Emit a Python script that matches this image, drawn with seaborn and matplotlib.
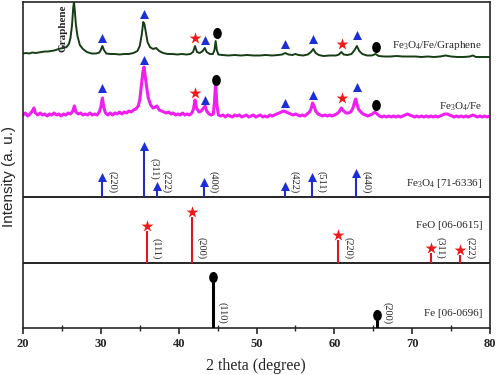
import numpy as np
import pandas as pd
import matplotlib
matplotlib.use('Agg')
import matplotlib.pyplot as plt
import seaborn as sns
from matplotlib.path import Path
from matplotlib.transforms import Affine2D

# --- measured XRD curves (2 theta, intensity a.u.) ---
tt_graphene = [20.0, 20.4, 20.8, 21.2, 21.6, 22.0, 22.4, 22.8, 23.2, 23.6, 24.0, 24.4, 24.8, 25.2,
               25.6, 25.9, 26.1, 26.3, 26.45, 26.55, 26.65, 26.8, 27.0, 27.3, 27.7, 28.2, 28.8,
               29.4, 29.8, 30.0, 30.2, 30.4, 30.7, 31.2, 31.8, 32.4, 33.0, 33.6, 34.2, 34.7, 35.0,
               35.25, 35.45, 35.6, 35.8, 36.0, 36.3, 36.7, 37.1, 37.5, 38.0, 38.6, 39.2, 39.8,
               40.4, 41.0, 41.5, 41.85, 42.1, 42.35, 42.7, 43.1, 43.35, 43.6, 44.0, 44.4, 44.6,
               44.75, 44.9, 45.1, 45.6, 46.4, 47.2, 48.0, 48.8, 49.6, 50.4, 51.2, 52.0, 52.8, 53.3,
               53.7, 54.1, 54.6, 55.0, 55.4, 56.0, 56.6, 57.0, 57.3, 57.6, 58.0, 58.6, 59.4, 60.2,
               60.6, 60.9, 61.2, 61.7, 62.2, 62.6, 62.9, 63.2, 63.6, 64.2, 64.8, 65.3, 65.7, 66.4,
               67.2, 68.0, 68.8, 69.6, 70.4, 71.2, 72.0, 72.8, 73.6, 74.3, 75.0, 75.8, 76.6, 77.4,
               77.8, 78.2, 79.0, 80.0]
i_graphene = [6.5, 7, 6.5, 7.5, 7, 7.5, 8, 8.5, 8.5, 9, 9.5, 10.5, 11.5, 12,
              13, 16, 22, 35, 52, 58, 50, 35, 24, 15, 11, 8, 6.5,
              6.5, 7.5, 10, 14, 10, 6.5, 6, 6, 5.5, 6, 6, 7, 9, 14,
              25, 38, 36, 27, 18, 13, 11, 12, 9, 7, 6, 6, 5.5,
              6, 5.5, 6, 8, 14, 8, 7, 9, 12, 8, 6, 6, 10,
              19, 10, 5.5, 5, 4.5, 5, 4.5, 5, 4.5, 4.5, 5, 4.5, 5, 5.5,
              7, 5.5, 5, 6, 5, 4.5, 5.5, 8, 11, 7, 5, 4, 4.5, 4.5,
              5.5, 8, 5.5, 5, 6, 10, 14, 9, 6, 4.5, 4.5, 6, 4, 3.5,
              3.5, 4, 3.5, 3.5, 3.5, 3, 3.5, 3, 3.5, 4.5, 3.5, 3, 3, 3.5,
              4.5, 3, 3, 3]

tt_fe3o4fe = [20.0, 20.3, 20.6, 20.9, 21.2, 21.4, 21.6, 21.9, 22.2, 22.5, 22.8, 23.1, 23.4, 23.7,
              24.0, 24.3, 24.6, 24.9, 25.2, 25.5, 25.8, 26.1, 26.4, 26.6, 26.8, 27.1, 27.4, 27.7,
              28.0, 28.3, 28.6, 28.9, 29.2, 29.5, 29.8, 30.0, 30.2, 30.4, 30.6, 30.9, 31.2, 31.5,
              31.8, 32.1, 32.4, 32.7, 33.0, 33.3, 33.6, 33.9, 34.2, 34.5, 34.8, 35.0, 35.2, 35.4,
              35.55, 35.7, 35.9, 36.1, 36.4, 36.7, 37.0, 37.2, 37.5, 37.8, 38.1, 38.4, 38.7, 39.0,
              39.3, 39.6, 39.9, 40.2, 40.5, 40.8, 41.1, 41.4, 41.7, 41.9, 42.1, 42.3, 42.6, 42.9,
              43.2, 43.4, 43.6, 43.9, 44.2, 44.45, 44.6, 44.75, 44.9, 45.1, 45.4, 45.7, 46.0, 46.3,
              46.6, 46.9, 47.2, 47.5, 47.8, 48.1, 48.4, 48.7, 49.0, 49.3, 49.6, 49.9, 50.2, 50.5,
              50.8, 51.1, 51.4, 51.7, 52.0, 52.3, 52.6, 52.9, 53.2, 53.5, 53.8, 54.1, 54.4, 54.7,
              55.0, 55.3, 55.6, 55.9, 56.2, 56.5, 56.8, 57.0, 57.2, 57.4, 57.6, 57.9, 58.2, 58.5,
              58.8, 59.1, 59.4, 59.7, 60.0, 60.3, 60.6, 60.9, 61.2, 61.5, 61.8, 62.1, 62.4, 62.6,
              62.75, 62.9, 63.1, 63.4, 63.7, 64.0, 64.3, 64.6, 64.9, 65.2, 65.5, 65.8, 66.1, 66.4,
              66.7, 67.0, 67.3, 67.6, 67.9, 68.2, 68.5, 68.8, 69.1, 69.4, 69.7, 70.0, 70.3, 70.6,
              70.9, 71.2, 71.5, 71.8, 72.1, 72.4, 72.7, 73.0, 73.3, 73.6, 73.9, 74.2, 74.5, 74.8,
              75.1, 75.4, 75.7, 76.0, 76.3, 76.6, 76.9, 77.2, 77.5, 77.8, 78.1, 78.4, 78.7, 79.0,
              79.3, 79.6, 80.0]
i_fe3o4fe = [5, 7, 4, 6, 9, 12, 7, 5, 7, 5, 6, 4, 6, 5,
             7, 5, 6, 4, 6, 5, 7, 6, 9, 14, 8, 6, 7, 5,
             6, 5, 7, 5, 6, 5, 8, 13, 22, 12, 7, 5, 7, 5,
             7, 6, 8, 6, 8, 7, 9, 8, 10, 11, 14, 20, 34, 48,
             53, 44, 32, 22, 15, 12, 13, 14, 10, 9, 8, 7, 8, 6,
             7, 5, 6, 5, 7, 5, 6, 5, 7, 11, 20, 12, 8, 9,
             12, 14, 9, 6, 5, 6, 18, 38, 16, 5, 4, 5, 3, 5,
             4, 3, 5, 4, 5, 3, 4, 5, 3, 4, 5, 3, 4, 5,
             3, 4, 3, 5, 4, 5, 6, 7, 8, 9, 8, 7, 6, 5,
             6, 5, 4, 5, 4, 6, 8, 11, 17, 14, 9, 6, 5, 4,
             5, 4, 5, 4, 5, 6, 8, 12, 9, 7, 7, 8, 12, 18,
             21, 16, 11, 8, 6, 5, 4, 5, 6, 8, 6, 4, 3, 4,
             3, 4, 3, 4, 3, 4, 3, 4, 5, 6, 5, 4, 3, 4,
             3, 4, 3, 4, 3, 4, 3, 4, 3, 4, 5, 6, 6, 5,
             4, 3, 4, 3, 4, 3, 4, 3, 4, 5, 4, 3, 4, 3,
             4, 3, 4]

# phase markers above the measured peaks (2 theta, phase, height a.u.)
mk_graphene_pos = [30.2, 35.5, 42.1, 43.4, 44.9, 53.7, 57.3, 61.0, 62.9, 65.4]
mk_graphene_phase = ['Fe3O4', 'Fe3O4', 'FeO', 'Fe3O4', 'Fe', 'Fe3O4', 'Fe3O4', 'FeO', 'Fe3O4', 'Fe']
mk_graphene_h = [22, 46, 22, 20, 27, 16, 21, 16, 25, 13]
mk_fe3o4fe_pos = [30.2, 35.5, 42.1, 43.4, 44.8, 53.7, 57.3, 61.0, 62.9, 65.3]
mk_fe3o4fe_phase = ['Fe3O4', 'Fe3O4', 'FeO', 'Fe3O4', 'Fe', 'Fe3O4', 'Fe3O4', 'FeO', 'Fe3O4', 'Fe']
mk_fe3o4fe_h = [32, 60, 27, 20, 40, 17, 25, 22, 33, 15]

# --- reference cards ---
fe3o4_pos = [30.2, 35.6, 37.2, 43.2, 53.6, 57.1, 62.8]
fe3o4_int = [33, 100, 13, 22, 13, 33, 41]
fe3o4_hkl = ['(220)', '(311)', '(222)', '(400)', '(422)', '(511)', '(440)']
feo_pos = [35.9, 41.7, 60.5, 72.4, 76.2]
feo_int = [69, 100, 51, 22, 18]
feo_hkl = ['(111)', '(200)', '(220)', '(311)', '(222)']
fe_pos = [44.4, 65.5]
fe_int = [100, 17]
fe_hkl = ['(110)', '(200)']

sns.set_style('ticks')
plt.rcParams['font.family'] = ['Liberation Serif', 'DejaVu Serif']
plt.rcParams['axes.linewidth'] = 1.2

ellipse = Path.unit_circle().transformed(Affine2D().scale(0.78, 1.0))
phase_style = {
    'Fe3O4': dict(marker='^', color='#1c2fd6', ms=6.5),
    'FeO': dict(marker='*', color='#f01a1a', ms=9),
    'Fe': dict(marker=ellipse, color='black', ms=8),
}

fig = plt.figure(figsize=(4.97, 3.75), dpi=100)
ax = fig.add_axes([23 / 497, 47 / 375, 467 / 497, 326 / 375])

# layout (axes units = pixels above the bottom spine)
GR_BASE, FE_BASE = 268, 208
FE3O4_BASE, FEO_BASE, FE_BASE_REF = 131, 65, 0
STICK_SCALE = 0.46


def draw_markers(pos, phase, h, base):
    df = pd.DataFrame({'x': pos, 'phase': phase, 'y': np.array(h) + base})
    for ph, sub in df.groupby('phase'):
        st = phase_style[ph]
        sns.scatterplot(data=sub, x='x', y='y', marker=st['marker'], color=st['color'],
                        s=st['ms'] ** 2, linewidth=0, ax=ax, zorder=5)


# measured curves
df_gr = pd.DataFrame({'tt': tt_graphene, 'y': np.array(i_graphene) + GR_BASE})
df_fe = pd.DataFrame({'tt': tt_fe3o4fe, 'y': np.array(i_fe3o4fe) + FE_BASE})
sns.lineplot(data=df_gr, x='tt', y='y', sort=False, estimator=None, color='#163d16', lw=1.4, ax=ax)
sns.lineplot(data=df_fe, x='tt', y='y', sort=False, estimator=None, color='#f01ef0', lw=2.2, ax=ax)
draw_markers(mk_graphene_pos, mk_graphene_phase, mk_graphene_h, GR_BASE)
draw_markers(mk_fe3o4fe_pos, mk_fe3o4fe_phase, mk_fe3o4fe_h, FE_BASE)

ax.text(25.1, 300, 'Graphene', rotation=90, ha='center', va='center', fontsize=8, fontweight='bold')
ax.text(79.0, 283, r'Fe$\mathregular{_3}$O$\mathregular{_4}$/Fe/Graphene', ha='right', va='center', fontsize=8)
ax.text(79.0, 221, r'Fe$\mathregular{_3}$O$\mathregular{_4}$/Fe', ha='right', va='center', fontsize=8)


def draw_card(pos, inten, hkl, base, phase, stick_color, lw, lift=None):
    lift = lift or {}
    tops = base + np.array(inten) * STICK_SCALE
    ax.vlines(pos, base, tops, color=stick_color, lw=lw, zorder=3)
    st = phase_style[phase]
    sns.scatterplot(x=pos, y=tops + 5, marker=st['marker'], color=st['color'],
                    s=st['ms'] ** 2, linewidth=0, ax=ax, zorder=5)
    for x, lab in zip(pos, hkl):
        ax.text(x + 1.25, base + 4 + lift.get(lab, 0), lab, rotation=270,
                ha='center', va='bottom', fontsize=7.5)


draw_card(fe3o4_pos, fe3o4_int, fe3o4_hkl, FE3O4_BASE, 'Fe3O4', '#1f2fb8', 1.5, lift={'(311)': 13})
draw_card(feo_pos, feo_int, feo_hkl, FEO_BASE, 'FeO', '#e0161e', 1.5)
draw_card(fe_pos, fe_int, fe_hkl, FE_BASE_REF, 'Fe', 'black', 2.2)

ax.text(79.0, 145, r'Fe$\mathregular{_3}$O$\mathregular{_4}$ [71-6336]', ha='right', va='center', fontsize=8)
ax.text(79.0, 102, 'FeO [06-0615]', ha='right', va='center', fontsize=8)
ax.text(79.0, 15, 'Fe [06-0696]', ha='right', va='center', fontsize=8)

ax.axhline(FE3O4_BASE, color='black', lw=1.2)
ax.axhline(FEO_BASE, color='black', lw=1.2)

ax.set_xlim(20, 80)
ax.set_ylim(0, 326)
ax.set_yticks([])
ax.set_xticks(range(20, 81, 10))
ax.set_xticks(range(25, 80, 10), minor=True)
ax.tick_params(axis='x', which='major', direction='out', length=4, width=1.2, labelsize=9, pad=3)
ax.tick_params(axis='x', which='minor', direction='inout', length=4, width=1.0)
for lbl in ax.get_xticklabels():
    lbl.set_fontweight('bold')
ax.set_xlabel('')
ax.set_ylabel('')

fig.text(256 / 497, 1 - 366 / 375, '2 theta (degree)', ha='center', va='center', fontsize=11.5)
fig.text(9 / 497, 1 - 176 / 375, 'Intensity (a. u.)', rotation=90, ha='center', va='center',
         fontsize=11, family=['Liberation Sans', 'DejaVu Sans'])

fig.savefig('out.png', dpi=100)
